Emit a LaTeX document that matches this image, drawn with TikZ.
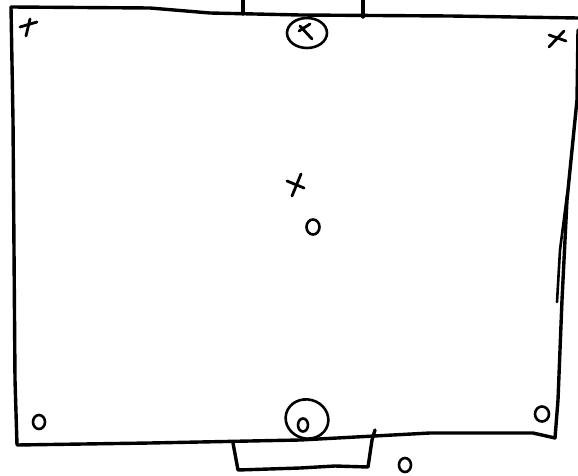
\documentclass[tikz,border=0pt]{standalone}
\begin{document}
\begin{tikzpicture}[x=1pt,y=-1pt,
  pen/.style={line width=3.4pt,line cap=round,line join=round,black},
  xmark/.style={line width=2.8pt,line cap=round,black},
  ring/.style={line width=2.6pt,black}]
\useasboundingbox (0,0) rectangle (578,476);
% field outline
\draw[pen] (11,7) -- (150,8) -- (210,13) -- (300,15) -- (450,16) -- (578,18);
\draw[pen] (11,7) -- (13,120) -- (14,250) -- (15,380) -- (17,445)
  -- (150,443) -- (300,440) -- (430,433) -- (533,433) -- (555,438)
  -- (558,400) -- (562,300) -- (567,200) -- (577,100) -- (578,30);
\draw[line width=2.6pt,black,line cap=round] (567,195) -- (560,250) -- (557,302);
% top goal posts
\draw[pen] (243,0) -- (243,14);
\draw[pen] (363,0) -- (363,17);
% bottom goal
\coordinate (g1) at (233,443);
\coordinate (g4) at (372,440);
\draw[pen] (g1) -- (238,470) -- (300,468) -- (335,466) -- (368,467) -- (g4) -- (375,430);
% players: x
\draw[xmark] (20,27) -- (37,22);  \draw[xmark] (30,19) -- (26,36);
\draw[xmark] (549,47) -- (564,31); \draw[xmark] (549,35) -- (566,41);
\draw[xmark] (287,181) -- (304,188); \draw[xmark] (301,174) -- (292,196);
\draw[xmark] (300,26) -- (312,39); \draw[xmark] (299,31) -- (310,24);
\draw[ring] (307,33) ellipse [x radius=20, y radius=15];
% players: o
\draw[ring] (313,227) ellipse [x radius=6.5, y radius=7.5];
\draw[ring] (39,422) ellipse [x radius=6, y radius=7];
\draw[ring] (542,414) ellipse [x radius=7, y radius=7.5];
\draw[ring] (303,425) ellipse [x radius=5, y radius=6.5];
\draw[ring,rotate around={-15:(307,419)}] (307,419) ellipse [x radius=21.5, y radius=19.5];
\draw[ring] (405,465) ellipse [x radius=6, y radius=7];
\end{tikzpicture}
\end{document}
